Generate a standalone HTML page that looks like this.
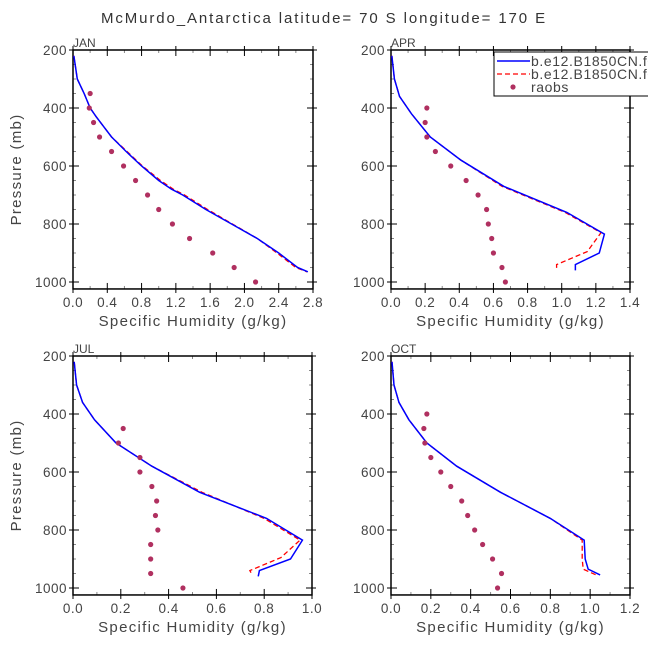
<!DOCTYPE html>
<html><head><meta charset="utf-8"><style>
body{margin:0;background:#fff}
svg{display:block;font-family:"Liberation Sans","DejaVu Sans",sans-serif}
</style></head><body>
<svg id="chart" width="648" height="649" viewBox="0 0 648 649">
<text x="324" y="23" text-anchor="middle" font-size="15" fill="#333" letter-spacing="1.9">McMurdo_Antarctica  latitude= 70 S longitude= 170 E</text>
</svg>
<script>
const pressuresJAN=[220,300,350,400,430,500,550,600,650,680,700,750,800,850,900,950,965];
const modelJAN=[0.01,0.05,0.13,0.2,0.27,0.45,0.62,0.8,1.0,1.15,1.28,1.55,1.85,2.15,2.4,2.62,2.74];
const model2JAN=[0.01,0.05,0.13,0.2,0.27,0.45,0.63,0.81,1.02,1.17,1.3,1.57,1.86,2.15,2.38,2.6,2.73];
const pressuresAPR=[220,300,360,420,500,580,670,760,835,900,940,960];
const modelAPR=[0.005,0.02,0.05,0.12,0.23,0.41,0.66,1.03,1.25,1.22,1.08,1.08];
const pressures2APR=[220,300,360,420,500,580,670,760,830,895,940,960];
const model2APR=[0.005,0.02,0.05,0.12,0.23,0.41,0.65,1.02,1.23,1.15,0.97,0.97];
const pressuresJUL=[220,300,360,420,500,580,670,760,835,900,940,960];
const modelJUL=[0.005,0.015,0.04,0.09,0.18,0.33,0.53,0.81,0.96,0.91,0.78,0.775];
const pressures2JUL=[220,300,360,420,500,580,670,760,835,895,940,955];
const model2JUL=[0.005,0.015,0.04,0.09,0.18,0.33,0.54,0.8,0.95,0.87,0.74,0.75];
const pressuresOCT=[220,300,360,420,500,580,670,760,835,900,935,955];
const modelOCT=[0.005,0.015,0.04,0.09,0.18,0.33,0.55,0.8,0.97,0.975,0.99,1.05];
const model2OCT=[0.005,0.015,0.04,0.09,0.18,0.33,0.55,0.8,0.96,0.96,0.965,1.03];
const raobP=[350,400,450,500,550,600,650,700,750,800,850,900,950,1000];
const raobJAN=[0.2,0.19,0.24,0.31,0.45,0.59,0.73,0.87,1.0,1.16,1.36,1.63,1.88,2.13];
const raobPAPR=[400,450,500,550,600,650,700,750,800,850,900,950,1000];
const raobAPR=[0.21,0.2,0.21,0.26,0.35,0.44,0.51,0.56,0.57,0.59,0.6,0.65,0.67];
const raobPJUL=[450,500,550,600,650,700,750,800,850,900,950,1000];
const raobJUL=[0.21,0.19,0.28,0.28,0.33,0.35,0.345,0.355,0.325,0.325,0.325,0.46];
const raobPOCT=[400,450,500,550,600,650,700,750,800,850,900,950,1000];
const raobOCT=[0.18,0.165,0.17,0.2,0.25,0.3,0.355,0.385,0.42,0.46,0.51,0.555,0.535];
const xTicksJAN=[0,0.4,0.8,1.2,1.6,2.0,2.4,2.8];
const xTicksAPR=[0,0.2,0.4,0.6,0.8,1.0,1.2,1.4];
const xTicksJUL=[0,0.2,0.4,0.6,0.8,1.0];
const xTicksOCT=[0,0.2,0.4,0.6,0.8,1.0,1.2];
const yTicks=[200,400,600,800,1000];

const NS="http://www.w3.org/2000/svg";
const svg=document.getElementById('chart');
function mk(tag,attrs,parent){const e=document.createElementNS(NS,tag);for(const k in attrs)e.setAttribute(k,attrs[k]);(parent||svg).appendChild(e);return e;}

const panels=[
 {name:'jan',label:'JAN',x0:73,x1:313,y0:50,xmax:2.8,xt:xTicksJAN,ylab:true,
  b:[pressuresJAN,modelJAN],r:[pressuresJAN,model2JAN],o:[raobP,raobJAN]},
 {name:'apr',label:'APR',x0:391,x1:630,y0:50,xmax:1.4,xt:xTicksAPR,ylab:false,
  b:[pressuresAPR,modelAPR],r:[pressures2APR,model2APR],o:[raobPAPR,raobAPR]},
 {name:'jul',label:'JUL',x0:73,x1:312,y0:356,xmax:1.0,xt:xTicksJUL,ylab:true,
  b:[pressuresJUL,modelJUL],r:[pressures2JUL,model2JUL],o:[raobPJUL,raobJUL]},
 {name:'oct',label:'OCT',x0:391,x1:630,y0:356,xmax:1.2,xt:xTicksOCT,ylab:false,
  b:[pressuresOCT,modelOCT],r:[pressuresOCT,model2OCT],o:[raobPOCT,raobOCT]}
];
panels.forEach(p=>{
 const g=mk('g',{});
 
 
 const sy=232/800;
 const Y=v=>p.y0+(v-200)*sy;
 const X=v=>p.x0+v/p.xmax*(p.x1-p.x0);
 const yb=Y(1024);
 for(let v=200;v<=1000;v+=50){
  const maj=v%200===0;const L=maj?6:3;
  const t1=mk('line',{x1:p.x0-(maj?4:0),x2:p.x0+L,y1:Y(v),y2:Y(v),stroke:maj?'#000':'#888','stroke-width':1},g);
  
  const t2=mk('line',{x1:p.x1-L,x2:p.x1+(maj?4:0),y1:Y(v),y2:Y(v),stroke:maj?'#000':'#888','stroke-width':1},g);
  
 }
 yTicks.forEach(v=>{const t=mk('text',{x:p.x0-6,y:Y(v)+5,'text-anchor':'end','font-size':13.5,fill:'#444','letter-spacing':'0.5'},g);t.textContent=v;
  });
 const step=p.xt[1]-p.xt[0];
 for(let i=0;i<=(p.xt.length-1)*2;i++){
  const v=i*step/2;const maj=i%2===0;const L=maj?6:3;
  const a=mk('line',{x1:X(v),x2:X(v),y1:yb+(maj?4:0),y2:yb-L,stroke:maj?'#000':'#888'},g);
  
  const b=mk('line',{x1:X(v),x2:X(v),y1:p.y0-(maj?4:0),y2:p.y0+L,stroke:maj?'#000':'#888'},g);
  
 }
 p.xt.forEach(v=>{const t=mk('text',{x:X(v),y:yb+18,'text-anchor':'middle','font-size':13.5,fill:'#444','letter-spacing':'0.5'},g);t.textContent=v.toFixed(1);
  });
 const fr=mk('rect',{x:p.x0,y:p.y0,width:p.x1-p.x0,height:yb-p.y0,fill:'none',stroke:'#000','stroke-width':1.5},g);
 
 const lb=mk('text',{x:p.x0,y:p.y0-3,'font-size':12,fill:'#444'},g);lb.textContent=p.label;
 
 const xl=mk('text',{x:(p.x0+p.x1)/2,y:yb+37,'text-anchor':'middle','font-size':15,fill:'#444','letter-spacing':'1.3'},g);xl.textContent='Specific Humidity (g/kg)';
 
 if(p.ylab){const yl=mk('text',{transform:`translate(21,${(p.y0+yb)/2}) rotate(-90)`,'text-anchor':'middle','font-size':15,fill:'#444','letter-spacing':'1.3'},g);yl.textContent='Pressure (mb)';
  }
 const pts=(P,Q)=>P.map((v,i)=>X(Q[i])+','+Y(v)).join(' ');
 const r=mk('polyline',{points:pts(p.r[0],p.r[1]),fill:'none',stroke:'#f00','stroke-width':1.3,'stroke-dasharray':'5,3'},g);
 
 const b=mk('polyline',{points:pts(p.b[0],p.b[1]),fill:'none',stroke:'#00f','stroke-width':1.5},g);
 
 p.o[0].forEach((v,i)=>{const c=mk('circle',{cx:X(p.o[1][i]),cy:Y(v),r:2.6,fill:'#b03060'},g);
  });
});
const lg=mk('g',{});


const lr=mk('rect',{x:494,y:52,width:160,height:44,fill:'#fff',stroke:'#000','stroke-width':1},lg);

const e1=mk('line',{x1:497,x2:530,y1:61,y2:61,stroke:'#00f','stroke-width':1.5},lg);

const e2=mk('line',{x1:497,x2:530,y1:74,y2:74,stroke:'#f00','stroke-width':1.3,'stroke-dasharray':'5,3'},lg);

const e3=mk('circle',{cx:513,cy:87,r:2.6,fill:'#b03060'},lg);

[['b.e12.B1850CN.f09',66],['b.e12.B1850CN.f09',79],['raobs',92]].forEach((t,i)=>{
 const tx=mk('text',{x:531,y:t[1],'font-size':14,fill:'#444','letter-spacing':'0.6'},lg);tx.textContent=t[0];
 
});
</script>
</body></html>
